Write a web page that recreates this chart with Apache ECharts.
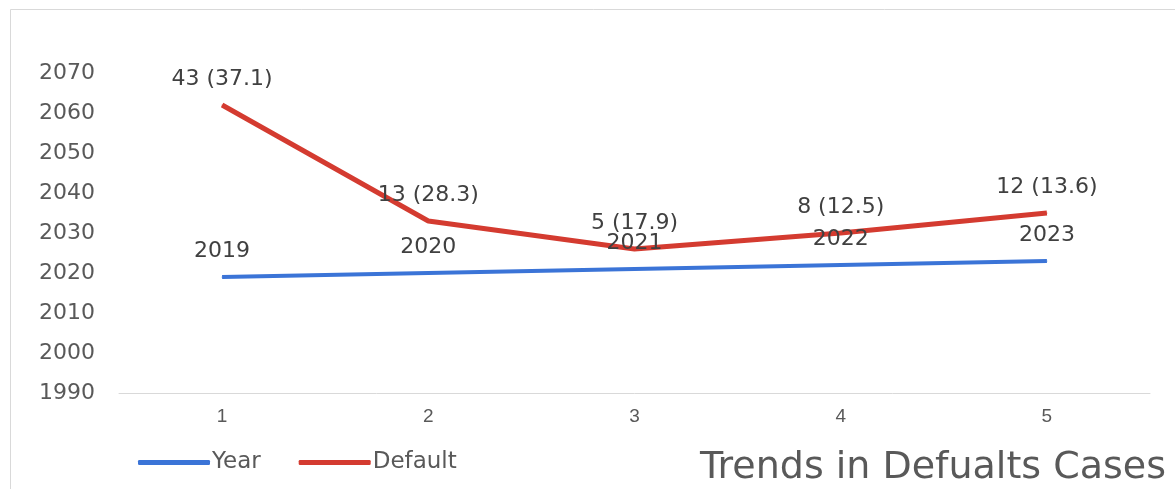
<!DOCTYPE html>
<html>
<head>
<meta charset="utf-8">
<script src="https://cdn.jsdelivr.net/npm/echarts@6/dist/echarts.min.js"></script>
<style>html,body{margin:0;padding:0;background:#fff}#c{width:1175px;height:489px}</style>
</head>
<body>
<div id="c"></div>
<script>
const categories = ['1', '2', '3', '4', '5'];
const yearValues = [2019, 2020, 2021, 2022, 2023];
const defaultValues = [43, 13, 5, 8, 12];
const defaultPercents = [37.1, 28.3, 17.9, 12.5, 13.6];
const yTicks = { min: 1990, max: 2070, interval: 10 };
const titleText = 'Trends in Defualts Cases';

const chart = echarts.init(document.getElementById('c'));
const wide = 'DejaVu Sans, Verdana, sans-serif';
const narrow = 'Liberation Sans Narrow, Liberation Sans, Arial, sans-serif';
const BLUE = '#3b74d7';
const RED = '#d43b30';
chart.setOption({
  animation: false,
  backgroundColor: '#fff',
  graphic: [{
    type: 'rect', left: 8, top: 7, silent: true, z: -10,
    shape: { width: 1200, height: 520 },
    style: { fill: 'none', stroke: '#d9d9d9', lineWidth: 1 }
  }],
  title: {
    text: titleText, right: 4, bottom: -3,
    textStyle: { fontFamily: wide, fontWeight: 'normal', fontSize: 38, color: '#595959' }
  },
  legend: {
    left: 133, bottom: 10, itemWidth: 72, itemHeight: 5, itemGap: 38,
    icon: 'roundRect',
    textStyle: { fontFamily: wide, fontSize: 23, color: '#595959', padding: [0, 0, 0, -3] },
    data: ['Year', 'Default']
  },
  grid: { left: 119, right: 25, top: 73, bottom: 96 },
  xAxis: {
    type: 'category', data: categories, boundaryGap: true,
    axisLine: { lineStyle: { color: '#d9d9d9', width: 1 } },
    axisTick: { show: false },
    axisLabel: { fontFamily: narrow, fontSize: 19, color: '#595959', margin: 14 }
  },
  yAxis: {
    type: 'value', min: yTicks.min, max: yTicks.max, interval: yTicks.interval,
    axisLine: { show: false }, axisTick: { show: false }, splitLine: { show: false },
    axisLabel: { fontFamily: wide, fontSize: 22, color: '#595959', margin: 24, formatter: v => String(v) }
  },
  series: [
    {
      name: 'Year', type: 'line', stack: 'total', data: yearValues,
      symbol: 'circle', symbolSize: 1, showSymbol: true, color: BLUE,
      itemStyle: { color: BLUE },
      lineStyle: { width: 4, color: BLUE },
      label: { show: true, position: 'top', distance: 14, fontFamily: wide, fontSize: 22, color: '#404040' }
    },
    {
      name: 'Default', type: 'line', stack: 'total', data: defaultValues,
      symbol: 'circle', symbolSize: 1, showSymbol: true, color: RED,
      itemStyle: { color: RED },
      lineStyle: { width: 5, color: RED },
      label: {
        show: true, position: 'top', distance: 14, fontFamily: wide, fontSize: 22, color: '#404040',
        formatter: p => defaultValues[p.dataIndex] + ' (' + defaultPercents[p.dataIndex] + ')'
      }
    }
  ]
});
</script>
</body>
</html>
